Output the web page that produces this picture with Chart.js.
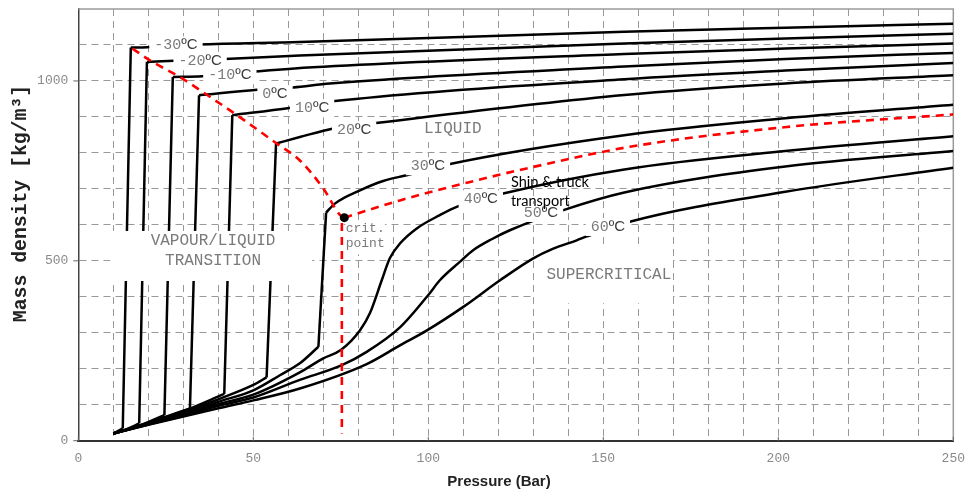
<!DOCTYPE html>
<html><head><meta charset="utf-8">
<script src="https://cdn.jsdelivr.net/npm/chart.js@4.4.1/dist/chart.umd.min.js"></script>
<style>html,body{margin:0;padding:0;background:#fff;}#wrap{width:966px;height:490px;}</style>
</head><body><div id="wrap"><canvas id="c" width="966" height="490"></canvas></div>
<script>
// ---------------- data (pressure [bar], density [kg/m3]) ----------------
const xLabelTicks = [0, 50, 100, 150, 200, 250];
const yLabelTicks = [0, 500, 1000];

const vapM30 = [[10,20],[12.7,34]];
const liqM30 = [[15,1093],[19.7,1094],[34.2,1101],[63.3,1108],[156,1137],[202,1148],[250,1159]];
const vapM20 = [[10,20],[14,33],[17.4,48]];
const liqM20 = [[19.6,1053],[27.4,1056],[41.9,1061],[63.3,1071],[156,1104],[202,1118],[250,1131]];
const vapM10 = [[10,20],[17,40],[24.6,71]];
const liqM10 = [[27,1011],[35.4,1013],[51.7,1027],[67,1038],[156,1075],[202,1090],[250,1104]];
const vap0  = [[10,20],[20,50],[31.9,90]];
const liq0  = [[34.5,960],[51.9,976],[61.4,982],[71.9,993],[156,1040],[202,1061],[250,1078]];
const vap10 = [[10,20],[20,49],[30,82],[41.7,130]];
const liq10 = [[44,905],[60.3,925],[73.3,944],[156,1005],[202,1029],[250,1050]];
const vap20 = [[10,20],[20,48],[30,78],[40,115],[50,155],[53.8,176]];
const liq20 = [[56.5,826],[63.3,844],[72.9,868],[85,883],[156,961],[202,993],[250,1016]];
const vap30 = [[10,20],[20,47],[30,75],[40,108],[50,140],[57.6,182],[63.3,215],[68.6,261]];
const liq30 = [[70.8,634],[73.3,659],[80.5,696],[87.1,722],[93.8,738],[106.2,769],[156,849],[202,896],[250,934]];
const iso40 = [[10,20],[20,46],[30,72],[40,102],[50,128],[63.3,190],[70,229],[75,252],[80.5,307],[83.3,354],[86.7,446],[89,507],[91.9,548],[96.7,590],[103.3,627],[108.1,650],[121.4,687],[156,754],[202,805],[250,846]];
const iso50 = [[10,20],[20,45],[30,69],[40,97],[50,120],[63.3,169],[75.3,210],[82.4,247],[91.9,315],[100,405],[103.3,446],[109,497],[112.9,530],[118.1,560],[123.3,585],[138.6,641],[156,690],[202,762],[250,805]];
const iso60 = [[10,20],[20,44],[30,67],[40,90],[50,112],[63.3,145],[82.4,213],[91.9,265],[99.5,306],[110,372],[120.5,446],[130,507],[135.7,534],[142.4,557],[145.3,568],[158.1,610],[202,692],[250,759]];

const redDome  = [[15.5,1090],[20.5,1057],[29,1011],[36.2,965],[45.3,905],[56.7,826],[63.3,779],[70,701],[74.8,627],[76,620]];
const redSuper = [[76,620],[91.9,668],[111,717],[130,761],[157.6,817],[202.4,872],[250,907]];
const redCritLine = [[75.3,605],[75.3,20]];
const critPoint = [[76,620]];

// ---------------- styling / helpers ----------------
const MONO = '"Liberation Mono", "DejaVu Sans Mono", monospace';
const SANS = '"Liberation Sans", Arial, sans-serif';
const pts = a => a.map(([x, y]) => ({x, y}));
const curve = (a) => ({data: pts(a), borderColor: '#000', borderWidth: 2.5, pointRadius: 0, fill: false, cubicInterpolationMode: 'monotone', borderCapStyle: 'butt'});
const straight = (a) => ({data: pts(a), borderColor: '#000', borderWidth: 2.5, pointRadius: 0, fill: false, tension: 0, borderJoinStyle: 'miter'});
const red = (a, mono) => ({data: pts(a), borderColor: '#ff0000', borderWidth: 2.6, borderDash: [8, 6], pointRadius: 0, fill: false,
  cubicInterpolationMode: mono ? 'monotone' : 'default', tension: 0});
const sub = (vap, liq) => [curve(vap), straight([vap[vap.length - 1], liq[0]]), curve(liq)];

const datasets = [
  {data: pts(critPoint), showLine: false, pointRadius: 4.5, pointBackgroundColor: '#000', pointBorderWidth: 0},
  red(redDome, true), red(redSuper, true), red(redCritLine, false),
  ...sub(vapM30, liqM30), ...sub(vapM20, liqM20), ...sub(vapM10, liqM10), ...sub(vap0, liq0),
  ...sub(vap10, liq10), ...sub(vap20, liq20), ...sub(vap30, liq30),
  curve(iso40), curve(iso50), curve(iso60)
];

// annotation texts (positions in data units)
const T = (num, x, y) => ({parts: [[num, '15px ' + MONO, '#7a7a7a'], ['\u00baC', '15px ' + SANS, '#3a3a3a']], x, y, box: 'auto', over: true});
const annotations = [
  T('-30', 27.9, 1099), T('-20', 34.8, 1055), T('-10', 43.3, 1016), T('0', 56.2, 963), T('10', 66.8, 924),
  T('20', 78.8, 863), T('30', 99.9, 763), T('40', 115, 671), T('50', 132.2, 633), T('60', 151.3, 594),
  {parts: [['LIQUID', '16px ' + MONO, '#7a7a7a']], x: 107, y: 866, box: {x0: 97.6, x1: 119, y0: 830, y1: 907}, over: false},
  {parts: [['VAPOUR/LIQUID', '16px ' + MONO, '#7a7a7a']], x: 38.5, y: 556, box: {x0: 9.2, x1: 66.8, y0: 444, y1: 583}, over: true},
  {parts: [['TRANSITION', '16px ' + MONO, '#7a7a7a']], x: 38.5, y: 500},
  {parts: [['SUPERCRITICAL', '16px ' + MONO, '#7a7a7a']], x: 151.6, y: 460, box: {x0: 130.3, x1: 169.9, y0: 382, y1: 535}, over: false},
  {parts: [['crit.', '13px ' + MONO, '#7a7a7a']], x: 76.4, y: 590, align: 'left', box: {x0: 76.3, x1: 87.6, y0: 518, y1: 607}, over: false},
  {parts: [['point', '13px ' + MONO, '#7a7a7a']], x: 76.4, y: 548, align: 'left'},
  {parts: [['Ship & truck', '14.5px Lato, "Open Sans", sans-serif', '#000']], x: 123.6, y: 718, align: 'left'},
  {parts: [['transport', '14.5px Lato, "Open Sans", sans-serif', '#000']], x: 123.6, y: 665, align: 'left'}
];

function measure(ctx, a) {
  let w = 0;
  for (const [t, f] of a.parts) { ctx.font = f; w += ctx.measureText(t).width; }
  return w;
}
function anchor(chart, a) {
  return {px: chart.scales.x.getPixelForValue(a.x), py: chart.scales.y.getPixelForValue(a.y)};
}
function drawBoxes(chart, over) {
  const ctx = chart.ctx, sx = chart.scales.x, sy = chart.scales.y;
  ctx.save();
  ctx.fillStyle = '#fff';
  for (const a of annotations) {
    if (!a.box || !!a.over !== over) continue;
    if (a.box === 'auto') {
      const w = measure(ctx, a), {px, py} = anchor(chart, a);
      ctx.fillRect(px - w / 2 - 5, py - 9, w + 10, 18);
    } else {
      const x0 = sx.getPixelForValue(a.box.x0), x1 = sx.getPixelForValue(a.box.x1);
      const y0 = sy.getPixelForValue(a.box.y1), y1 = sy.getPixelForValue(a.box.y0);
      ctx.fillRect(x0, y0, x1 - x0, y1 - y0);
    }
  }
  ctx.restore();
}
function drawTexts(chart) {
  const ctx = chart.ctx;
  ctx.save();
  ctx.textBaseline = 'middle';
  ctx.textAlign = 'left';
  for (const a of annotations) {
    const w = measure(ctx, a), {px, py} = anchor(chart, a);
    let x = a.align === 'left' ? px : px - w / 2;
    for (const [t, f, c] of a.parts) {
      ctx.font = f; ctx.fillStyle = c; ctx.fillText(t, x, py); x += ctx.measureText(t).width;
    }
  }
  ctx.restore();
}

const annotPlugin = {
  id: 'annot',
  beforeDatasetsDraw(chart) {
    const {ctx, chartArea: ca} = chart;
    drawBoxes(chart, false);
    ctx.save();
    ctx.strokeStyle = '#9a9a9a'; ctx.lineWidth = 1.5;
    ctx.beginPath();
    ctx.moveTo(ca.left, ca.top); ctx.lineTo(ca.right, ca.top); ctx.lineTo(ca.right, ca.bottom);
    ctx.stroke();
    // small tick marks at labelled values
    ctx.strokeStyle = '#666'; ctx.lineWidth = 1;
    ctx.beginPath();
    for (const v of xLabelTicks) { const x = chart.scales.x.getPixelForValue(v); ctx.moveTo(x, ca.bottom); ctx.lineTo(x, ca.bottom - 4); }
    for (const v of yLabelTicks) { const y = chart.scales.y.getPixelForValue(v); ctx.moveTo(ca.left - 5, y); ctx.lineTo(ca.left, y); }
    ctx.stroke();
    ctx.restore();
  },
  afterDatasetsDraw(chart) {
    drawBoxes(chart, true);
    drawTexts(chart);
  },
  afterDraw(chart) {
    const ctx = chart.ctx;
    ctx.save();
    ctx.fillStyle = '#222';
    ctx.textAlign = 'center'; ctx.textBaseline = 'middle';
    ctx.font = 'bold 15px ' + SANS;
    ctx.fillText('Pressure (Bar)', 499, 482);
    ctx.translate(21, 203.5);
    ctx.rotate(-Math.PI / 2);
    ctx.font = 'bold 19.8px ' + MONO;
    ctx.fillText('Mass density [kg/m\u00b3]', 0, 0);
    ctx.restore();
  }
};

new Chart(document.getElementById('c'), {
  type: 'line',
  data: {datasets},
  options: {
    responsive: false,
    animation: false,
    layout: {padding: {left: 0, right: 12.7, top: 9, bottom: 0}},
    plugins: {legend: {display: false}, tooltip: {enabled: false}},
    scales: {
      x: {
        type: 'linear', min: 0, max: 250,
        afterFit(s) { s.height = 49.3; },
        ticks: {stepSize: 10, autoSkip: false, maxRotation: 0, padding: 0,
          callback: v => xLabelTicks.includes(v) ? String(v) : '',
          font: {family: MONO, size: 13}, color: '#8a8a8a'},
        grid: {color: c => (c.tick && (c.tick.value === 0 || c.tick.value === 250)) ? 'rgba(0,0,0,0)' : '#999',
          lineWidth: 1, tickLength: 10, tickColor: 'rgba(0,0,0,0)'},
        border: {display: true, color: '#333', width: 2, dash: [7, 5]}
      },
      y: {
        type: 'linear', min: 0, max: 1200,
        afterFit(s) { s.width = 78.3; },
        ticks: {stepSize: 100, autoSkip: false, padding: 0,
          callback: v => yLabelTicks.includes(v) ? String(v) : '',
          font: {family: MONO, size: 13, lineHeight: 1.1}, color: '#8a8a8a'},
        grid: {color: c => (c.tick && (c.tick.value === 0 || c.tick.value === 1200)) ? 'rgba(0,0,0,0)' : '#999',
          lineWidth: 1, tickLength: 10, tickColor: 'rgba(0,0,0,0)'},
        border: {display: true, color: '#444', width: 1.5, dash: [7, 5]}
      }
    }
  },
  plugins: [annotPlugin]
});
</script>
</body></html>
